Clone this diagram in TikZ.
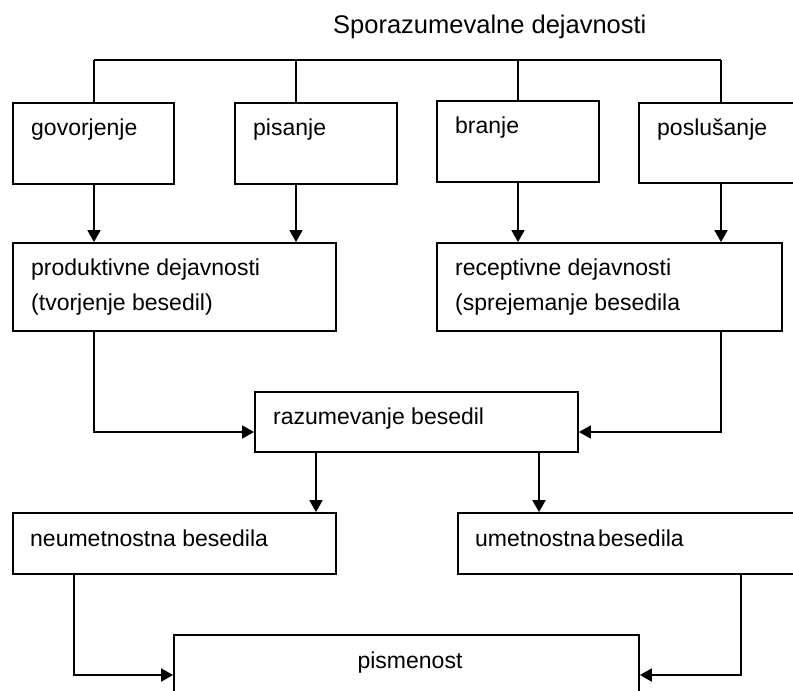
\documentclass[tikz,border=0pt]{standalone}
\usepackage{fontspec}
\setmainfont{Liberation Sans}
\usetikzlibrary{arrows.meta}
\begin{document}
\begin{tikzpicture}[x=1pt,y=-1pt,
  box/.style={draw, line width=1.8pt, rectangle, inner sep=0pt},
  txt/.style={anchor=base west, inner sep=0pt, font=\fontsize{23}{27}\selectfont},
  ln/.style={line width=1.8pt},
  arr/.style={line width=1.8pt, -{Triangle[length=12pt,width=13pt]}}]
\useasboundingbox (0,0) rectangle (793,691);
\clip (0,0) rectangle (793,691);
% title
\node[anchor=base west, inner sep=0pt, font=\fontsize{25.5}{30}\selectfont] (title) at (333,33) {Sporazumevalne dejavnosti};
% bus coordinates
\coordinate (c1) at (94,60);
\coordinate (c2) at (296,60);
\coordinate (c3) at (518,60);
\coordinate (c4) at (721,60);
\coordinate (d1) at (316,0);
\coordinate (d2) at (539,0);
\coordinate (e1) at (74,675);
\coordinate (e2) at (741,675);
\coordinate (f1) at (94,432);
\coordinate (f2) at (721,432);
% boxes
\node[box, minimum width=161.3pt, minimum height=81pt] (gov) at (93.35,143.5) {};
\node[box, minimum width=162pt, minimum height=81pt] (pis) at (316,143.5) {};
\node[box, minimum width=162pt, minimum height=81pt] (bra) at (518,141.5) {};
\node[box, minimum width=161pt, minimum height=80pt] (pos) at (719.5,143) {};
\node[box, minimum width=323.3pt, minimum height=88pt] (prod) at (174.35,287) {};
\node[box, minimum width=345pt, minimum height=88pt] (rec) at (609.5,287) {};
\node[box, minimum width=323pt, minimum height=60pt] (raz) at (416.5,422) {};
\node[box, minimum width=323.4pt, minimum height=61pt] (neu) at (174.3,543.5) {};
\node[box, minimum width=342pt, minimum height=61pt] (ume) at (629,543.5) {};
\node[box, minimum width=465pt, minimum height=65pt] (pism) at (406.5,667.5) {};
% texts
\node[txt] (tgov) at (31,135) {govorjenje};
\node[txt] (tpis) at (253,135) {pisanje};
\node[txt] (tbra) at (455,133) {branje};
\node[txt] (tpos) at (657,135) {poslušanje};
\node[txt] (tprod1) at (31,275) {produktivne dejavnosti};
\node[txt] (tprod2) at (31,310) {(tvorjenje besedil)};
\node[txt] (trec1) at (455,275) {receptivne dejavnosti};
\node[txt] (trec2) at (455,310) {(sprejemanje besedila};
\node[txt] (traz) at (273,424) {razumevanje besedil};
\node[txt] (tneu) at (30,546) {neumetnostna besedila};
\node[txt] (tume) at (475,546) {umetnostna\hspace{0.12em}besedila};
\node[txt, anchor=base] (tpism) at (410,668) {pismenost};
% bus
\draw[ln] (c1) -- (c4);
\draw[ln] (c1) -- (gov.north -| c1);
\draw[ln] (c2) -- (pis.north -| c2);
\draw[ln] (c3) -- (bra.north -| c3);
\draw[ln] (c4) -- (pos.north -| c4);
% arrows to middle boxes
\draw[arr] (gov.south -| c1) -- (prod.north -| c1);
\draw[arr] (pis.south -| c2) -- (prod.north -| c2);
\draw[arr] (bra.south -| c3) -- (rec.north -| c3);
\draw[arr] (pos.south -| c4) -- (rec.north -| c4);
% to razumevanje
\draw[arr] (prod.south -| f1) -- (f1) -- (raz.west |- f1);
\draw[arr] (rec.south -| f2) -- (f2) -- (raz.east |- f2);
% to neu / ume
\draw[arr] (raz.south -| d1) -- (neu.north -| d1);
\draw[arr] (raz.south -| d2) -- (ume.north -| d2);
% to pismenost
\draw[arr] (neu.south -| e1) -- (e1) -- (pism.west |- e1);
\draw[arr] (ume.south -| e2) -- (e2) -- (pism.east |- e2);
\end{tikzpicture}
\end{document}
